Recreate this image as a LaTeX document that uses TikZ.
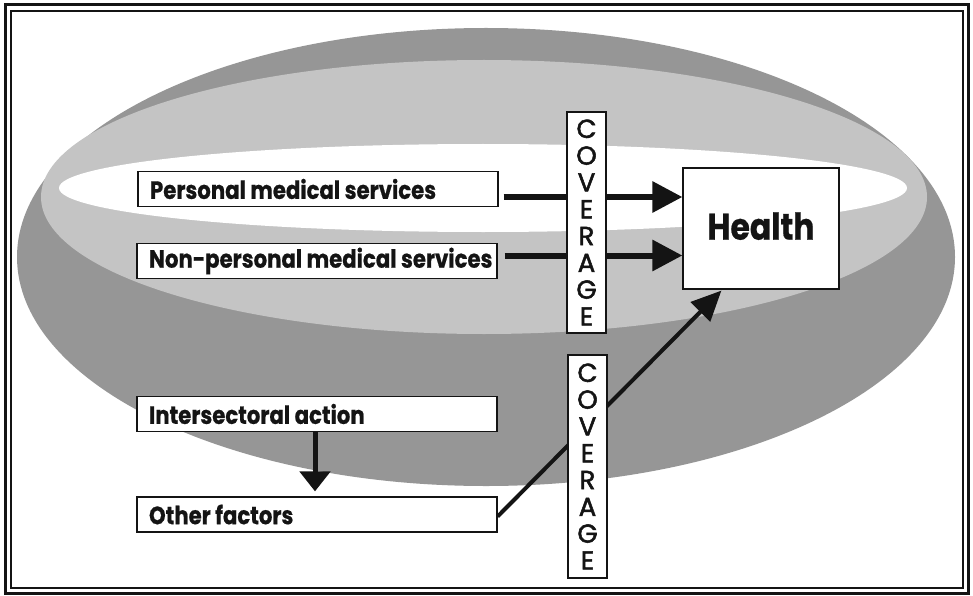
\documentclass[tikz,border=0pt]{standalone}
\usepackage{fontspec}
\newfontfamily\labelfont{Poppins}[FakeStretch=0.85,FakeBold=0.6]
\newfontfamily\coverfont{Poppins}[FakeBold=2]
\usetikzlibrary{arrows.meta,calc}
\definecolor{rimgray}{gray}{0.59}
\definecolor{topgray}{gray}{0.77}
\definecolor{ink}{gray}{0.08}
\pgfdeclarelayer{shade}
\pgfdeclarelayer{links}
\pgfsetlayers{shade,links,main}
% left-aligned text of a factor box; long lines may run into the right padding
\newcommand\factortext[1]{\makebox[336pt][l]{#1}}
\begin{document}
\begin{tikzpicture}[x=1pt,y=-1pt,
  factor/.style={draw=ink, line width=1.2pt, fill=white, text=ink,
    minimum width=360pt, minimum height=35pt, inner xsep=12pt, inner ysep=0pt,
    font=\labelfont\bfseries\fontsize{25}{28}\selectfont},
  outcome/.style={draw=ink, line width=1.2pt, fill=white, text=ink,
    minimum width=156pt, minimum height=121pt, inner sep=0pt,
    font=\labelfont\bfseries\fontsize{37}{40}\selectfont},
  coverbox/.style={draw=ink, line width=1.2pt, fill=white, text=ink,
    minimum width=39pt, inner sep=0pt, align=center,
    font=\coverfont\fontsize{26}{26.8}\selectfont},
  flow/.style={draw=ink, line width=6pt, -{Triangle[length=30pt,width=30pt]}},
  slantflow/.style={draw=ink, line width=4pt, -{Triangle[length=30pt,width=27pt]}},
  downflow/.style={draw=ink, line width=5pt, -{Triangle[length=20pt,width=30pt]}}
]
\useasboundingbox (0,0) rectangle (973,596);

% the shaded disc behind the diagram
\begin{pgfonlayer}{shade}
  \fill[white] (0,0) rectangle (973,596);
  \fill[rimgray] (486,257) ellipse [x radius=469pt, y radius=229pt];
  \fill[topgray] (484,197) ellipse [x radius=443pt, y radius=137pt];
  \fill[white]   (483,188) ellipse [x radius=424pt, y radius=44pt];
\end{pgfonlayer}

% double frame
\draw[ink, line width=3pt] (5,5) rectangle (968,593);
\draw[ink, line width=1.3pt] (11,11) rectangle (963,588);

% factors
\node[factor] (pms) at (318,189)   {\factortext{Personal medical services}};
\node[factor] (nps) at (317,261)   {\factortext{Non-personal medical services}};
\node[factor] (ia)  at (317,414)   {\factortext{Intersectoral action}};
\node[factor] (of)  at (317,514.5) {\factortext{Other factors}};

% outcome
\node[outcome] (health) at (761,228.5) {\raisebox{5pt}{Health}};

% coverage bars
\node[coverbox, minimum height=221pt] (cov1) at (586.5,222.5) {C\\O\\V\\E\\R\\A\\G\\E};
\node[coverbox, minimum height=223pt] (cov2) at (587.5,466.5) {C\\O\\V\\E\\R\\A\\G\\E};

% connectors, passing behind the coverage bars
\begin{pgfonlayer}{links}
  \draw[flow] ([xshift=5pt,yshift=-8pt]pms.east) -- ([yshift=-8pt]pms.east -| health.west);
  \draw[flow] ([xshift=7pt,yshift=5.5pt]nps.east) -- ([yshift=5.5pt]nps.east -| health.west);
  \draw[slantflow] ([yshift=-2pt]of.east) -- ([xshift=39pt,yshift=-1pt]health.south west);
  \draw[downflow] ([xshift=-2pt]ia.south) -- ([xshift=-2pt,yshift=5pt]of.north);
\end{pgfonlayer}
\end{tikzpicture}
\end{document}
